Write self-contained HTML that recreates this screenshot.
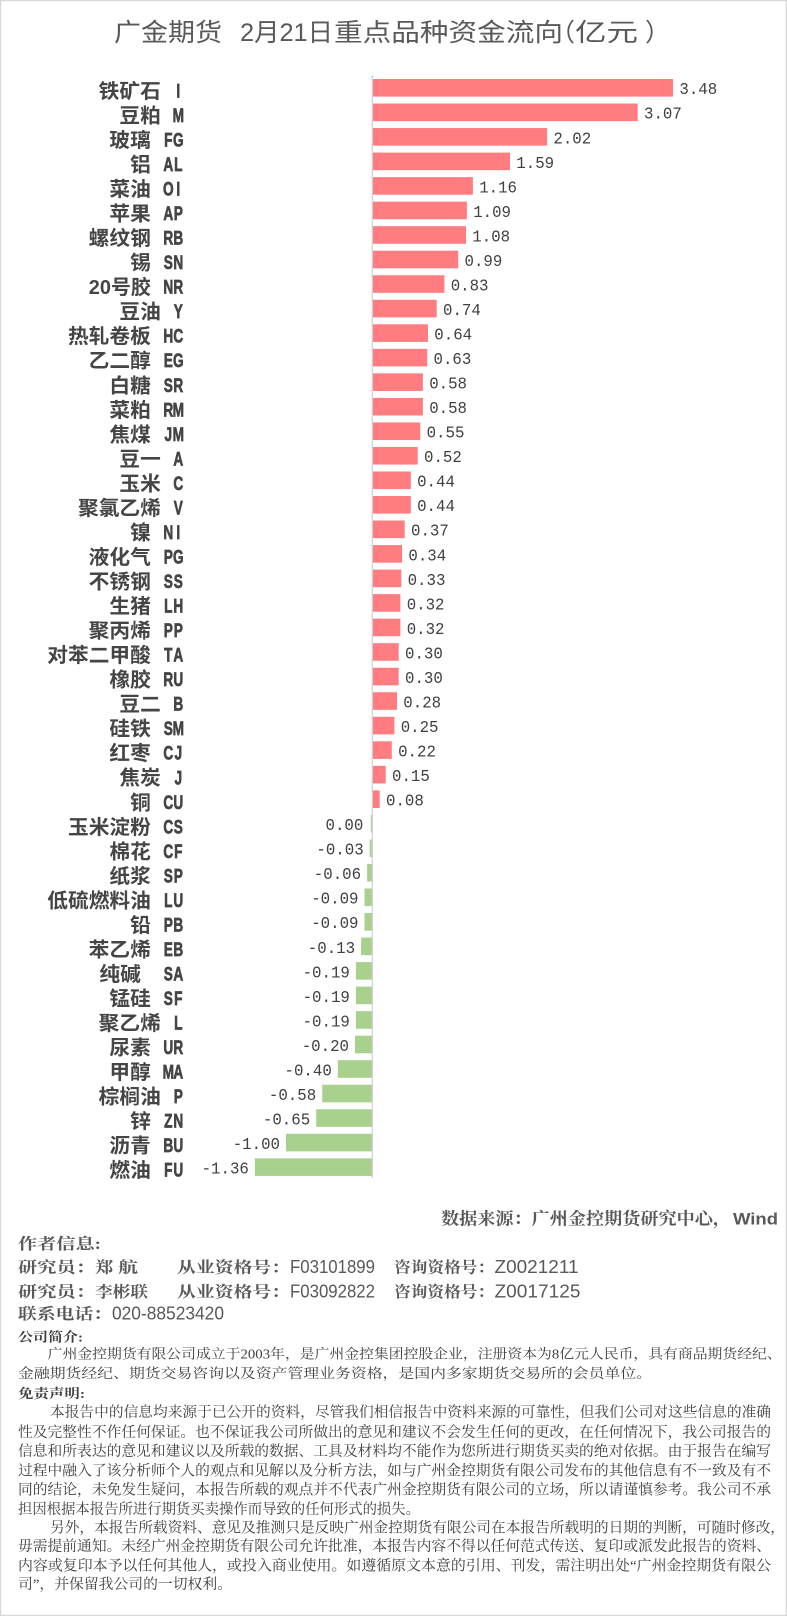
<!DOCTYPE html>
<html><head><meta charset="utf-8"><style>
html,body{margin:0;padding:0;background:#fff;}
svg{display:block;}
.t{font-family:"Liberation Sans","Noto Sans CJK SC",sans-serif;font-size:25px;fill:#595959;}
.cn{font-family:"Liberation Sans","Noto Sans CJK SC",sans-serif;font-weight:700;font-size:20px;fill:#454545;}
.cd{font-family:"Liberation Sans",sans-serif;font-weight:700;font-size:19.5px;fill:#454545;stroke:#454545;stroke-width:0.7px;text-anchor:middle;}
.v{font-family:"Liberation Mono",monospace;font-size:17px;fill:#404040;}
.p{fill:#FF7C80;}
.n{fill:#A9D18E;}
.src{font-family:"Liberation Serif","Noto Serif CJK SC",serif;font-weight:700;font-size:17px;fill:#595959;}
.srcw{font-family:"Liberation Sans",sans-serif;font-weight:700;font-size:17px;fill:#595959;}
.au{font-family:"Liberation Serif","Noto Serif CJK SC",serif;font-weight:700;font-size:15.5px;fill:#595959;}
.al{font-family:"Liberation Sans",sans-serif;font-size:18px;fill:#595959;}
.h{font-family:"Liberation Serif","Noto Serif CJK SC",serif;font-weight:700;font-size:13px;fill:#404040;}
.in{font-family:"Liberation Serif","Noto Serif CJK SC",serif;font-size:13.5px;fill:#404040;}
.d{font-family:"Liberation Serif","Noto Serif CJK SC",serif;font-size:14.5px;fill:#404040;}
</style></head><body>
<svg width="787" height="1616" viewBox="0 0 787 1616" xmlns="http://www.w3.org/2000/svg">
<rect x="0" y="0" width="787" height="1616" fill="#fff"/>
<rect x="0.5" y="0.5" width="786" height="1615" fill="none" stroke="#d9d9d9" stroke-width="1.5"/>

<!-- title -->
<text class="t" x="114" y="41.2" textLength="108" lengthAdjust="spacingAndGlyphs">广金期货</text>
<text class="t" x="240" y="41.2" textLength="93" lengthAdjust="spacingAndGlyphs">2月21日</text>
<text class="t" x="334" y="41.2" textLength="229" lengthAdjust="spacingAndGlyphs">重点品种资金流向</text>
<text class="t" x="550" y="41.2">（</text>
<text class="t" x="575" y="41.2" textLength="63" lengthAdjust="spacingAndGlyphs">亿元</text>
<text class="t" x="645" y="41.2">）</text>

<!-- rows -->
<g transform="translate(0,87.8)"><text class="cn" x="98.7" y="10.1" textLength="62.1" lengthAdjust="spacingAndGlyphs">铁矿石</text><text class="cd" transform="scale(0.7 1)" x="254.71" y="9.6">I</text><rect class="p" x="372.8" y="-8.8" width="300.3" height="17.6"/><text class="v" x="679.4" y="6.4" textLength="37.8" lengthAdjust="spacingAndGlyphs">3.48</text></g>
<g transform="translate(0,112.33)"><text class="cn" x="119.4" y="10.1" textLength="41.4" lengthAdjust="spacingAndGlyphs">豆粕</text><text class="cd" transform="scale(0.7 1)" x="254.71" y="9.6">M</text><rect class="p" x="372.8" y="-8.8" width="264.9" height="17.6"/><text class="v" x="644.0" y="6.4" textLength="37.8" lengthAdjust="spacingAndGlyphs">3.07</text></g>
<g transform="translate(0,136.86)"><text class="cn" x="109.4" y="10.1" textLength="41.4" lengthAdjust="spacingAndGlyphs">玻璃</text><text class="cd" transform="scale(0.7 1)" x="240.43 254.71" y="9.6">FG</text><rect class="p" x="372.8" y="-8.8" width="174.3" height="17.6"/><text class="v" x="553.4" y="6.4" textLength="37.8" lengthAdjust="spacingAndGlyphs">2.02</text></g>
<g transform="translate(0,161.39)"><text class="cn" x="130.1" y="10.1" textLength="20.7" lengthAdjust="spacingAndGlyphs">铝</text><text class="cd" transform="scale(0.7 1)" x="240.43 254.71" y="9.6">AL</text><rect class="p" x="372.8" y="-8.8" width="137.2" height="17.6"/><text class="v" x="516.3" y="6.4" textLength="37.8" lengthAdjust="spacingAndGlyphs">1.59</text></g>
<g transform="translate(0,185.92)"><text class="cn" x="109.4" y="10.1" textLength="41.4" lengthAdjust="spacingAndGlyphs">菜油</text><text class="cd" transform="scale(0.7 1)" x="240.43 254.71" y="9.6">OI</text><rect class="p" x="372.8" y="-8.8" width="100.1" height="17.6"/><text class="v" x="479.2" y="6.4" textLength="37.8" lengthAdjust="spacingAndGlyphs">1.16</text></g>
<g transform="translate(0,210.45)"><text class="cn" x="109.4" y="10.1" textLength="41.4" lengthAdjust="spacingAndGlyphs">苹果</text><text class="cd" transform="scale(0.7 1)" x="240.43 254.71" y="9.6">AP</text><rect class="p" x="372.8" y="-8.8" width="94.1" height="17.6"/><text class="v" x="473.2" y="6.4" textLength="37.8" lengthAdjust="spacingAndGlyphs">1.09</text></g>
<g transform="translate(0,234.98)"><text class="cn" x="88.7" y="10.1" textLength="62.1" lengthAdjust="spacingAndGlyphs">螺纹钢</text><text class="cd" transform="scale(0.7 1)" x="240.43 254.71" y="9.6">RB</text><rect class="p" x="372.8" y="-8.8" width="93.2" height="17.6"/><text class="v" x="472.3" y="6.4" textLength="37.8" lengthAdjust="spacingAndGlyphs">1.08</text></g>
<g transform="translate(0,259.51)"><text class="cn" x="130.1" y="10.1" textLength="20.7" lengthAdjust="spacingAndGlyphs">锡</text><text class="cd" transform="scale(0.7 1)" x="240.43 254.71" y="9.6">SN</text><rect class="p" x="372.8" y="-8.8" width="85.4" height="17.6"/><text class="v" x="464.5" y="6.4" textLength="37.8" lengthAdjust="spacingAndGlyphs">0.99</text></g>
<g transform="translate(0,284.04)"><text class="cn" x="88.8" y="10.1" textLength="62" lengthAdjust="spacingAndGlyphs">20号胶</text><text class="cd" transform="scale(0.7 1)" x="240.43 254.71" y="9.6">NR</text><rect class="p" x="372.8" y="-8.8" width="71.6" height="17.6"/><text class="v" x="450.7" y="6.4" textLength="37.8" lengthAdjust="spacingAndGlyphs">0.83</text></g>
<g transform="translate(0,308.57)"><text class="cn" x="119.4" y="10.1" textLength="41.4" lengthAdjust="spacingAndGlyphs">豆油</text><text class="cd" transform="scale(0.7 1)" x="254.71" y="9.6">Y</text><rect class="p" x="372.8" y="-8.8" width="63.9" height="17.6"/><text class="v" x="443.0" y="6.4" textLength="37.8" lengthAdjust="spacingAndGlyphs">0.74</text></g>
<g transform="translate(0,333.10)"><text class="cn" x="68.0" y="10.1" textLength="82.8" lengthAdjust="spacingAndGlyphs">热轧卷板</text><text class="cd" transform="scale(0.7 1)" x="240.43 254.71" y="9.6">HC</text><rect class="p" x="372.8" y="-8.8" width="55.2" height="17.6"/><text class="v" x="434.3" y="6.4" textLength="37.8" lengthAdjust="spacingAndGlyphs">0.64</text></g>
<g transform="translate(0,357.63)"><text class="cn" x="88.7" y="10.1" textLength="62.1" lengthAdjust="spacingAndGlyphs">乙二醇</text><text class="cd" transform="scale(0.7 1)" x="240.43 254.71" y="9.6">EG</text><rect class="p" x="372.8" y="-8.8" width="54.4" height="17.6"/><text class="v" x="433.5" y="6.4" textLength="37.8" lengthAdjust="spacingAndGlyphs">0.63</text></g>
<g transform="translate(0,382.16)"><text class="cn" x="109.4" y="10.1" textLength="41.4" lengthAdjust="spacingAndGlyphs">白糖</text><text class="cd" transform="scale(0.7 1)" x="240.43 254.71" y="9.6">SR</text><rect class="p" x="372.8" y="-8.8" width="50.1" height="17.6"/><text class="v" x="429.2" y="6.4" textLength="37.8" lengthAdjust="spacingAndGlyphs">0.58</text></g>
<g transform="translate(0,406.69)"><text class="cn" x="109.4" y="10.1" textLength="41.4" lengthAdjust="spacingAndGlyphs">菜粕</text><text class="cd" transform="scale(0.7 1)" x="240.43 254.71" y="9.6">RM</text><rect class="p" x="372.8" y="-8.8" width="50.1" height="17.6"/><text class="v" x="429.2" y="6.4" textLength="37.8" lengthAdjust="spacingAndGlyphs">0.58</text></g>
<g transform="translate(0,431.22)"><text class="cn" x="109.4" y="10.1" textLength="41.4" lengthAdjust="spacingAndGlyphs">焦煤</text><text class="cd" transform="scale(0.7 1)" x="240.43 254.71" y="9.6">JM</text><rect class="p" x="372.8" y="-8.8" width="47.5" height="17.6"/><text class="v" x="426.6" y="6.4" textLength="37.8" lengthAdjust="spacingAndGlyphs">0.55</text></g>
<g transform="translate(0,455.75)"><text class="cn" x="119.4" y="10.1" textLength="41.4" lengthAdjust="spacingAndGlyphs">豆一</text><text class="cd" transform="scale(0.7 1)" x="254.71" y="9.6">A</text><rect class="p" x="372.8" y="-8.8" width="44.9" height="17.6"/><text class="v" x="424.0" y="6.4" textLength="37.8" lengthAdjust="spacingAndGlyphs">0.52</text></g>
<g transform="translate(0,480.28)"><text class="cn" x="119.4" y="10.1" textLength="41.4" lengthAdjust="spacingAndGlyphs">玉米</text><text class="cd" transform="scale(0.7 1)" x="254.71" y="9.6">C</text><rect class="p" x="372.8" y="-8.8" width="38.0" height="17.6"/><text class="v" x="417.1" y="6.4" textLength="37.8" lengthAdjust="spacingAndGlyphs">0.44</text></g>
<g transform="translate(0,504.81)"><text class="cn" x="78.0" y="10.1" textLength="82.8" lengthAdjust="spacingAndGlyphs">聚氯乙烯</text><text class="cd" transform="scale(0.7 1)" x="254.71" y="9.6">V</text><rect class="p" x="372.8" y="-8.8" width="38.0" height="17.6"/><text class="v" x="417.1" y="6.4" textLength="37.8" lengthAdjust="spacingAndGlyphs">0.44</text></g>
<g transform="translate(0,529.34)"><text class="cn" x="130.1" y="10.1" textLength="20.7" lengthAdjust="spacingAndGlyphs">镍</text><text class="cd" transform="scale(0.7 1)" x="240.43 254.71" y="9.6">NI</text><rect class="p" x="372.8" y="-8.8" width="31.9" height="17.6"/><text class="v" x="411.0" y="6.4" textLength="37.8" lengthAdjust="spacingAndGlyphs">0.37</text></g>
<g transform="translate(0,553.87)"><text class="cn" x="88.7" y="10.1" textLength="62.1" lengthAdjust="spacingAndGlyphs">液化气</text><text class="cd" transform="scale(0.7 1)" x="240.43 254.71" y="9.6">PG</text><rect class="p" x="372.8" y="-8.8" width="29.3" height="17.6"/><text class="v" x="408.4" y="6.4" textLength="37.8" lengthAdjust="spacingAndGlyphs">0.34</text></g>
<g transform="translate(0,578.40)"><text class="cn" x="88.7" y="10.1" textLength="62.1" lengthAdjust="spacingAndGlyphs">不锈钢</text><text class="cd" transform="scale(0.7 1)" x="240.43 254.71" y="9.6">SS</text><rect class="p" x="372.8" y="-8.8" width="28.5" height="17.6"/><text class="v" x="407.6" y="6.4" textLength="37.8" lengthAdjust="spacingAndGlyphs">0.33</text></g>
<g transform="translate(0,602.93)"><text class="cn" x="109.4" y="10.1" textLength="41.4" lengthAdjust="spacingAndGlyphs">生猪</text><text class="cd" transform="scale(0.7 1)" x="240.43 254.71" y="9.6">LH</text><rect class="p" x="372.8" y="-8.8" width="27.6" height="17.6"/><text class="v" x="406.7" y="6.4" textLength="37.8" lengthAdjust="spacingAndGlyphs">0.32</text></g>
<g transform="translate(0,627.46)"><text class="cn" x="88.7" y="10.1" textLength="62.1" lengthAdjust="spacingAndGlyphs">聚丙烯</text><text class="cd" transform="scale(0.7 1)" x="240.43 254.71" y="9.6">PP</text><rect class="p" x="372.8" y="-8.8" width="27.6" height="17.6"/><text class="v" x="406.7" y="6.4" textLength="37.8" lengthAdjust="spacingAndGlyphs">0.32</text></g>
<g transform="translate(0,651.99)"><text class="cn" x="47.3" y="10.1" textLength="103.5" lengthAdjust="spacingAndGlyphs">对苯二甲酸</text><text class="cd" transform="scale(0.7 1)" x="240.43 254.71" y="9.6">TA</text><rect class="p" x="372.8" y="-8.8" width="25.9" height="17.6"/><text class="v" x="405.0" y="6.4" textLength="37.8" lengthAdjust="spacingAndGlyphs">0.30</text></g>
<g transform="translate(0,676.52)"><text class="cn" x="109.4" y="10.1" textLength="41.4" lengthAdjust="spacingAndGlyphs">橡胶</text><text class="cd" transform="scale(0.7 1)" x="240.43 254.71" y="9.6">RU</text><rect class="p" x="372.8" y="-8.8" width="25.9" height="17.6"/><text class="v" x="405.0" y="6.4" textLength="37.8" lengthAdjust="spacingAndGlyphs">0.30</text></g>
<g transform="translate(0,701.05)"><text class="cn" x="119.4" y="10.1" textLength="41.4" lengthAdjust="spacingAndGlyphs">豆二</text><text class="cd" transform="scale(0.7 1)" x="254.71" y="9.6">B</text><rect class="p" x="372.8" y="-8.8" width="24.2" height="17.6"/><text class="v" x="403.3" y="6.4" textLength="37.8" lengthAdjust="spacingAndGlyphs">0.28</text></g>
<g transform="translate(0,725.58)"><text class="cn" x="109.4" y="10.1" textLength="41.4" lengthAdjust="spacingAndGlyphs">硅铁</text><text class="cd" transform="scale(0.7 1)" x="240.43 254.71" y="9.6">SM</text><rect class="p" x="372.8" y="-8.8" width="21.6" height="17.6"/><text class="v" x="400.7" y="6.4" textLength="37.8" lengthAdjust="spacingAndGlyphs">0.25</text></g>
<g transform="translate(0,750.11)"><text class="cn" x="109.4" y="10.1" textLength="41.4" lengthAdjust="spacingAndGlyphs">红枣</text><text class="cd" transform="scale(0.7 1)" x="240.43 254.71" y="9.6">CJ</text><rect class="p" x="372.8" y="-8.8" width="19.0" height="17.6"/><text class="v" x="398.1" y="6.4" textLength="37.8" lengthAdjust="spacingAndGlyphs">0.22</text></g>
<g transform="translate(0,774.64)"><text class="cn" x="119.4" y="10.1" textLength="41.4" lengthAdjust="spacingAndGlyphs">焦炭</text><text class="cd" transform="scale(0.7 1)" x="254.71" y="9.6">J</text><rect class="p" x="372.8" y="-8.8" width="12.9" height="17.6"/><text class="v" x="392.0" y="6.4" textLength="37.8" lengthAdjust="spacingAndGlyphs">0.15</text></g>
<g transform="translate(0,799.17)"><text class="cn" x="130.1" y="10.1" textLength="20.7" lengthAdjust="spacingAndGlyphs">铜</text><text class="cd" transform="scale(0.7 1)" x="240.43 254.71" y="9.6">CU</text><rect class="p" x="372.8" y="-8.8" width="6.9" height="17.6"/><text class="v" x="386.0" y="6.4" textLength="37.8" lengthAdjust="spacingAndGlyphs">0.08</text></g>
<g transform="translate(0,823.70)"><text class="cn" x="68.0" y="10.1" textLength="82.8" lengthAdjust="spacingAndGlyphs">玉米淀粉</text><text class="cd" transform="scale(0.7 1)" x="240.43 254.71" y="9.6">CS</text><rect class="n" x="370.8" y="-8.8" width="1.5" height="17.6"/><text class="v" x="325.5" y="6.4" textLength="37.8" lengthAdjust="spacingAndGlyphs">0.00</text></g>
<g transform="translate(0,848.23)"><text class="cn" x="109.4" y="10.1" textLength="41.4" lengthAdjust="spacingAndGlyphs">棉花</text><text class="cd" transform="scale(0.7 1)" x="240.43 254.71" y="9.6">CF</text><rect class="n" x="369.7" y="-8.8" width="2.6" height="17.6"/><text class="v" x="316.4" y="6.4" textLength="47.3" lengthAdjust="spacingAndGlyphs">-0.03</text></g>
<g transform="translate(0,872.76)"><text class="cn" x="109.4" y="10.1" textLength="41.4" lengthAdjust="spacingAndGlyphs">纸浆</text><text class="cd" transform="scale(0.7 1)" x="240.43 254.71" y="9.6">SP</text><rect class="n" x="367.1" y="-8.8" width="5.2" height="17.6"/><text class="v" x="313.8" y="6.4" textLength="47.3" lengthAdjust="spacingAndGlyphs">-0.06</text></g>
<g transform="translate(0,897.29)"><text class="cn" x="47.3" y="10.1" textLength="103.5" lengthAdjust="spacingAndGlyphs">低硫燃料油</text><text class="cd" transform="scale(0.7 1)" x="240.43 254.71" y="9.6">LU</text><rect class="n" x="364.5" y="-8.8" width="7.8" height="17.6"/><text class="v" x="311.2" y="6.4" textLength="47.3" lengthAdjust="spacingAndGlyphs">-0.09</text></g>
<g transform="translate(0,921.82)"><text class="cn" x="130.1" y="10.1" textLength="20.7" lengthAdjust="spacingAndGlyphs">铅</text><text class="cd" transform="scale(0.7 1)" x="240.43 254.71" y="9.6">PB</text><rect class="n" x="364.5" y="-8.8" width="7.8" height="17.6"/><text class="v" x="311.2" y="6.4" textLength="47.3" lengthAdjust="spacingAndGlyphs">-0.09</text></g>
<g transform="translate(0,946.35)"><text class="cn" x="88.7" y="10.1" textLength="62.1" lengthAdjust="spacingAndGlyphs">苯乙烯</text><text class="cd" transform="scale(0.7 1)" x="240.43 254.71" y="9.6">EB</text><rect class="n" x="361.1" y="-8.8" width="11.2" height="17.6"/><text class="v" x="307.8" y="6.4" textLength="47.3" lengthAdjust="spacingAndGlyphs">-0.13</text></g>
<g transform="translate(0,970.88)"><text class="cn" x="99.4" y="10.1" textLength="41.4" lengthAdjust="spacingAndGlyphs">纯碱</text><text class="cd" transform="scale(0.7 1)" x="240.43 254.71" y="9.6">SA</text><rect class="n" x="355.9" y="-8.8" width="16.4" height="17.6"/><text class="v" x="302.6" y="6.4" textLength="47.3" lengthAdjust="spacingAndGlyphs">-0.19</text></g>
<g transform="translate(0,995.41)"><text class="cn" x="109.4" y="10.1" textLength="41.4" lengthAdjust="spacingAndGlyphs">锰硅</text><text class="cd" transform="scale(0.7 1)" x="240.43 254.71" y="9.6">SF</text><rect class="n" x="355.9" y="-8.8" width="16.4" height="17.6"/><text class="v" x="302.6" y="6.4" textLength="47.3" lengthAdjust="spacingAndGlyphs">-0.19</text></g>
<g transform="translate(0,1019.94)"><text class="cn" x="98.7" y="10.1" textLength="62.1" lengthAdjust="spacingAndGlyphs">聚乙烯</text><text class="cd" transform="scale(0.7 1)" x="254.71" y="9.6">L</text><rect class="n" x="355.9" y="-8.8" width="16.4" height="17.6"/><text class="v" x="302.6" y="6.4" textLength="47.3" lengthAdjust="spacingAndGlyphs">-0.19</text></g>
<g transform="translate(0,1044.47)"><text class="cn" x="109.4" y="10.1" textLength="41.4" lengthAdjust="spacingAndGlyphs">尿素</text><text class="cd" transform="scale(0.7 1)" x="240.43 254.71" y="9.6">UR</text><rect class="n" x="355.0" y="-8.8" width="17.3" height="17.6"/><text class="v" x="301.7" y="6.4" textLength="47.3" lengthAdjust="spacingAndGlyphs">-0.20</text></g>
<g transform="translate(0,1069.00)"><text class="cn" x="109.4" y="10.1" textLength="41.4" lengthAdjust="spacingAndGlyphs">甲醇</text><text class="cd" transform="scale(0.7 1)" x="240.43 254.71" y="9.6">MA</text><rect class="n" x="337.8" y="-8.8" width="34.5" height="17.6"/><text class="v" x="284.5" y="6.4" textLength="47.3" lengthAdjust="spacingAndGlyphs">-0.40</text></g>
<g transform="translate(0,1093.53)"><text class="cn" x="98.7" y="10.1" textLength="62.1" lengthAdjust="spacingAndGlyphs">棕榈油</text><text class="cd" transform="scale(0.7 1)" x="254.71" y="9.6">P</text><rect class="n" x="322.2" y="-8.8" width="50.1" height="17.6"/><text class="v" x="268.9" y="6.4" textLength="47.3" lengthAdjust="spacingAndGlyphs">-0.58</text></g>
<g transform="translate(0,1118.06)"><text class="cn" x="130.1" y="10.1" textLength="20.7" lengthAdjust="spacingAndGlyphs">锌</text><text class="cd" transform="scale(0.7 1)" x="240.43 254.71" y="9.6">ZN</text><rect class="n" x="316.2" y="-8.8" width="56.1" height="17.6"/><text class="v" x="262.9" y="6.4" textLength="47.3" lengthAdjust="spacingAndGlyphs">-0.65</text></g>
<g transform="translate(0,1142.59)"><text class="cn" x="109.4" y="10.1" textLength="41.4" lengthAdjust="spacingAndGlyphs">沥青</text><text class="cd" transform="scale(0.7 1)" x="240.43 254.71" y="9.6">BU</text><rect class="n" x="286.0" y="-8.8" width="86.3" height="17.6"/><text class="v" x="232.7" y="6.4" textLength="47.3" lengthAdjust="spacingAndGlyphs">-1.00</text></g>
<g transform="translate(0,1167.12)"><text class="cn" x="109.4" y="10.1" textLength="41.4" lengthAdjust="spacingAndGlyphs">燃油</text><text class="cd" transform="scale(0.7 1)" x="240.43 254.71" y="9.6">FU</text><rect class="n" x="254.9" y="-8.8" width="117.4" height="17.6"/><text class="v" x="201.6" y="6.4" textLength="47.3" lengthAdjust="spacingAndGlyphs">-1.36</text></g>

<!-- axis -->
<rect x="371.7" y="75" width="1.2" height="1103" fill="#d0d0d0"/>

<!-- source -->
<text class="src" x="441" y="1224.5" textLength="290" lengthAdjust="spacingAndGlyphs">数据来源：广州金控期货研究中心，</text>
<text class="srcw" x="733" y="1224.5" textLength="45" lengthAdjust="spacingAndGlyphs">Wind</text>

<!-- author info -->
<text class="au" x="18" y="1249.2" textLength="83" lengthAdjust="spacingAndGlyphs">作者信息:</text>
<text class="au" x="18" y="1272.6" textLength="77" lengthAdjust="spacingAndGlyphs">研究员：</text>
<text class="au" x="95" y="1272.6" textLength="18.5" lengthAdjust="spacingAndGlyphs">郑</text>
<text class="au" x="118" y="1272.6" textLength="20" lengthAdjust="spacingAndGlyphs">航</text>
<text class="au" x="177" y="1272.6" textLength="113" lengthAdjust="spacingAndGlyphs">从业资格号：</text>
<text class="al" x="290" y="1273" textLength="85" lengthAdjust="spacingAndGlyphs">F03101899</text>
<text class="au" x="394" y="1272.6" textLength="100" lengthAdjust="spacingAndGlyphs">咨询资格号：</text>
<text class="al" x="494.5" y="1273" textLength="84" lengthAdjust="spacingAndGlyphs">Z0021211</text>

<text class="au" x="18" y="1296.9" textLength="77" lengthAdjust="spacingAndGlyphs">研究员：</text>
<text class="au" x="95" y="1296.9" textLength="53" lengthAdjust="spacingAndGlyphs">李彬联</text>
<text class="au" x="177" y="1296.9" textLength="113" lengthAdjust="spacingAndGlyphs">从业资格号：</text>
<text class="al" x="290" y="1297.3" textLength="85" lengthAdjust="spacingAndGlyphs">F03092822</text>
<text class="au" x="394" y="1296.9" textLength="100" lengthAdjust="spacingAndGlyphs">咨询资格号：</text>
<text class="al" x="494.5" y="1297.3" textLength="86" lengthAdjust="spacingAndGlyphs">Z0017125</text>

<text class="au" x="18" y="1319.2" textLength="94" lengthAdjust="spacingAndGlyphs">联系电话：</text>
<text class="al" x="112" y="1319.6" textLength="112" lengthAdjust="spacingAndGlyphs">020-88523420</text>

<!-- company intro -->
<text class="h" x="18" y="1341.6" textLength="65" lengthAdjust="spacingAndGlyphs">公司简介:</text>
<text class="in" x="47.7" y="1358.6" textLength="734" lengthAdjust="spacingAndGlyphs">广州金控期货有限公司成立于2003年，是广州金控集团控股企业，注册资本为8亿元人民币，具有商品期货经纪、</text>
<text class="in" x="18" y="1378.1" textLength="634" lengthAdjust="spacingAndGlyphs">金融期货经纪、期货交易咨询以及资产管理业务资格，是国内多家期货交易所的会员单位。</text>

<!-- disclaimer -->
<text class="h" x="18" y="1397.9" textLength="67" lengthAdjust="spacingAndGlyphs">免责声明:</text>
<text class="d" x="50" y="1417.2" textLength="721" lengthAdjust="spacingAndGlyphs">本报告中的信息均来源于已公开的资料，尽管我们相信报告中资料来源的可靠性，但我们公司对这些信息的准确</text>
<text class="d" x="18" y="1437" textLength="753" lengthAdjust="spacingAndGlyphs">性及完整性不作任何保证。也不保证我公司所做出的意见和建议不会发生任何的更改，在任何情况下，我公司报告的</text>
<text class="d" x="18" y="1456.2" textLength="753" lengthAdjust="spacingAndGlyphs">信息和所表达的意见和建议以及所载的数据、工具及材料均不能作为您所进行期货买卖的绝对依据。由于报告在编写</text>
<text class="d" x="18" y="1475.5" textLength="753" lengthAdjust="spacingAndGlyphs">过程中融入了该分析师个人的观点和见解以及分析方法，如与广州金控期货有限公司发布的其他信息有不一致及有不</text>
<text class="d" x="18" y="1494.3" textLength="753" lengthAdjust="spacingAndGlyphs">同的结论，未免发生疑问，本报告所载的观点并不代表广州金控期货有限公司的立场，所以请谨慎参考。我公司不承</text>
<text class="d" x="18" y="1513.8" textLength="402" lengthAdjust="spacingAndGlyphs">担因根据本报告所进行期货买卖操作而导致的任何形式的损失。</text>
<text class="d" x="50" y="1532.5" textLength="735" lengthAdjust="spacingAndGlyphs">另外，本报告所载资料、意见及推测只是反映广州金控期货有限公司在本报告所载明的日期的判断，可随时修改，</text>
<text class="d" x="18" y="1551" textLength="753" lengthAdjust="spacingAndGlyphs">毋需提前通知。未经广州金控期货有限公司允许批准，本报告内容不得以任何范式传送、复印或派发此报告的资料、</text>
<text class="d" x="18" y="1570.5" textLength="753" lengthAdjust="spacingAndGlyphs">内容或复印本予以任何其他人，或投入商业使用。如遵循原文本意的引用、刊发，需注明出处“广州金控期货有限公</text>
<text class="d" x="18" y="1589" textLength="214" lengthAdjust="spacingAndGlyphs">司”，并保留我公司的一切权利。</text>
</svg>
</body></html>
